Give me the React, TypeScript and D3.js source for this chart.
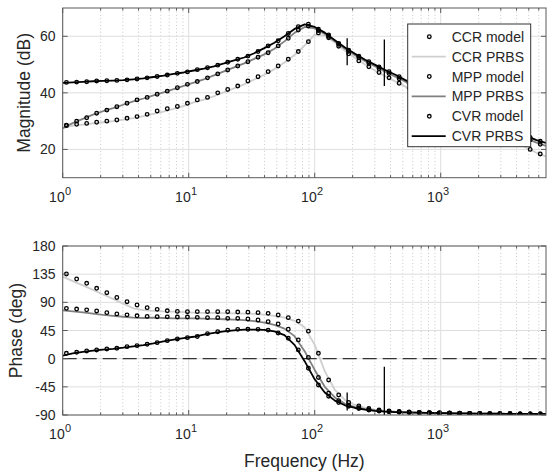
import React from 'react';
import * as d3 from 'd3';

// ---------- data ----------
const modelFreq = [1.07, 1.29, 1.55, 1.86, 2.24, 2.69, 3.24, 3.89, 4.68, 5.62, 6.76, 8.13, 9.77, 11.7, 14.1, 17.0, 20.4, 24.5, 29.5, 35.5, 42.7, 51.3, 61.7, 74.1, 89.1, 107, 129, 155, 186, 224, 269, 324, 389, 468, 562, 676, 813, 977, 1175, 1413, 1698, 2042, 2455, 2951, 3548, 4266, 5129, 6166];

const ccrModelMag = [28.4, 28.9, 29.2, 29.6, 30.0, 30.4, 31.0, 31.6, 32.4, 33.6, 34.4, 35.2, 36.3, 37.5, 38.4, 40.0, 41.2, 42.4, 44.2, 45.7, 47.5, 49.5, 51.9, 54.6, 58.1, 61.2, 59.5, 56.5, 53.8, 51.3, 49.2, 47.2, 45.3, 43.4, 41.6, 39.8, 38.0, 36.2, 34.4, 32.6, 30.8, 29.0, 27.2, 25.4, 23.6, 21.8, 20.0, 18.4];
const mppModelMag = [28.6, 30.0, 31.2, 32.8, 33.9, 35.1, 36.3, 37.5, 38.4, 39.5, 40.6, 41.8, 43.0, 44.0, 45.3, 46.7, 48.1, 49.5, 51.0, 52.6, 54.2, 56.6, 59.3, 62.2, 63.6, 62.0, 60.0, 57.2, 54.7, 52.5, 50.5, 48.6, 46.8, 45.0, 43.2, 41.5, 39.8, 38.1, 36.5, 34.8, 33.2, 31.5, 29.9, 28.2, 26.6, 24.9, 23.3, 21.8];
const cvrModelMag = [43.7, 43.8, 43.95, 44.2, 44.3, 44.4, 44.6, 44.9, 45.3, 45.8, 46.3, 46.9, 47.4, 48.2, 48.9, 49.8, 50.8, 51.9, 53.0, 54.6, 56.6, 58.4, 61.0, 63.4, 64.3, 62.5, 60.5, 57.5, 55.1, 53.0, 51.0, 49.2, 47.5, 45.7, 43.8, 42.2, 40.5, 38.9, 37.2, 35.6, 34.0, 32.3, 30.7, 29.1, 27.4, 25.8, 24.2, 22.9];

const ccrModelPhase = [135.3, 127.3, 120.4, 112.4, 105.4, 97.7, 91.0, 85.7, 81.5, 78.8, 76.5, 75.5, 75.0, 75.1, 75.1, 75.0, 75.0, 74.5, 74.3, 73.5, 72.4, 69.8, 65.5, 60.0, 44.0, 8.6, -34, -58, -70, -75.5, -79.5, -82, -83.5, -84.5, -85.3, -85.8, -86.2, -86.6, -86.9, -87.2, -87.4, -87.6, -87.8, -88.0, -88.1, -88.2, -88.3, -88.4];
const mppModelPhase = [80.4, 79.3, 78.0, 76.2, 73.5, 71.5, 70.0, 68.5, 67.5, 67.0, 66.8, 66.5, 66.5, 66.0, 65.5, 65.5, 64.4, 64.4, 63.4, 61.8, 59.1, 55.4, 47.0, 30.0, 2.0, -30, -55, -67, -74.5, -78.5, -81.5, -83.2, -84.5, -85.3, -85.8, -86.2, -86.5, -86.8, -87.1, -87.3, -87.5, -87.7, -87.8, -88.0, -88.1, -88.2, -88.3, -88.4];
const cvrModelPhase = [8.6, 10.2, 12.3, 13.9, 15.5, 16.6, 19.2, 20.8, 23.0, 25.6, 28.8, 31.5, 33.6, 35.5, 40.0, 43.0, 45.5, 46.8, 46.9, 46.8, 45.6, 41.0, 32.5, 14.0, -15.4, -42, -60, -70, -76, -79.5, -82, -83.5, -84.7, -85.4, -85.9, -86.3, -86.6, -86.9, -87.2, -87.4, -87.6, -87.8, -87.9, -88.0, -88.1, -88.2, -88.3, -88.4];

const prbsFreq = [1, 1.2, 1.445, 1.74, 2.09, 2.51, 3.02, 3.63, 4.37, 5.25, 6.31, 7.59, 9.12, 10.96, 13.18, 15.85, 19.05, 22.91, 27.54, 33.11, 39.81, 47.86, 57.54, 69.18, 83.18, 100, 120.2, 144.5, 173.8, 208.9, 251.2, 302, 363.1, 436.5, 524.8, 631, 758.6, 912, 1096, 1318, 1585, 1905, 2291, 2754, 3311, 3981, 4786, 5754, 6850];

const ccrPrbsMag = [27.5, 28.4, 28.8, 29.2, 29.6, 30.0, 30.5, 31.1, 31.8, 32.6, 33.4, 34.3, 35.4, 36.6, 37.6, 38.8, 40.2, 41.6, 43.0, 44.7, 46.4, 48.4, 50.7, 53.4, 56.7, 60.6, 60.2, 57.8, 54.9, 52.3, 50.0, 47.8, 45.9, 44.0, 42.2, 40.4, 38.6, 36.8, 35.0, 33.2, 31.4, 29.6, 27.8, 26.0, 24.2, 22.4, 20.6, 18.8, 17.5];
const mppPrbsMag = [27.5, 29.3, 30.8, 32.3, 33.5, 34.6, 35.8, 37.0, 38.0, 39.1, 40.2, 41.3, 42.5, 43.6, 44.8, 46.2, 47.6, 49.0, 50.4, 52.0, 53.6, 55.6, 58.2, 61.2, 63.3, 62.8, 60.8, 58.2, 55.6, 53.3, 51.2, 49.3, 47.5, 45.7, 43.9, 42.1, 40.4, 38.7, 37.1, 35.4, 33.8, 32.1, 30.5, 28.8, 27.2, 25.5, 23.9, 22.4, 21.2];
const cvrPrbsMag = [43.5, 43.7, 43.9, 44.1, 44.25, 44.35, 44.5, 44.8, 45.1, 45.6, 46.1, 46.7, 47.2, 47.9, 48.6, 49.4, 50.4, 51.5, 52.5, 54.0, 55.8, 57.7, 60.0, 62.6, 64.2, 63.3, 61.3, 58.6, 56.0, 53.8, 51.7, 49.9, 48.1, 46.4, 44.5, 42.8, 41.1, 39.5, 37.8, 36.2, 34.6, 32.9, 31.3, 29.7, 28.0, 26.4, 24.8, 23.3, 22.3];

const ccrPrbsPhase = [131, 124, 117, 110, 102.5, 95.5, 88, 80.5, 77.5, 76.5, 75.5, 75, 74.5, 73.5, 73.2, 73, 72.8, 72.5, 72, 71.5, 70.5, 68.5, 65.5, 60.5, 50, 22, -20, -50, -66, -74, -78.5, -81.5, -83.3, -84.5, -85.3, -85.9, -86.3, -86.7, -87, -87.2, -87.4, -87.6, -87.8, -87.9, -88, -88.1, -88.2, -88.3, -88.4];
const mppPrbsPhase = [77, 75.5, 74, 72, 70, 68.5, 67, 65.5, 65, 65.5, 65, 64.5, 64.5, 64.5, 64, 63.5, 63, 62.5, 61.5, 60, 57.5, 54, 48, 36, 12, -18, -45, -62, -72, -77.5, -80.8, -82.8, -84.2, -85.1, -85.7, -86.1, -86.5, -86.8, -87.1, -87.3, -87.5, -87.7, -87.8, -88.0, -88.1, -88.2, -88.3, -88.4, -88.4];
const cvrPrbsPhase = [4.8, 8.5, 10.8, 12.8, 14.5, 15.8, 17.5, 19.8, 21.8, 24.3, 27.5, 30.3, 32.8, 35.0, 38.5, 41.3, 43.5, 45.3, 46.3, 46.5, 46.0, 43.5, 37.5, 22.0, -4.0, -33, -54, -67, -74.5, -78.8, -81.5, -83.3, -84.6, -85.3, -85.8, -86.2, -86.5, -86.8, -87.1, -87.3, -87.5, -87.7, -87.8, -88.0, -88.1, -88.2, -88.3, -88.4, -88.4];

// narrow disturbances in the CVR PRBS measurement
const spikeFreq = [181, 357];
const spikeMagHi = [59.3, 58.9];
const spikeMagLo = [49.8, 42.4];
const spikePhaseHi = [-54, -12.8];
const spikePhaseLo = [-83, -90];

const magTicks = [20, 40, 60];
const phaseTicks = [-90, -45, 0, 45, 90, 135, 180];
const decadeTicks = [1, 10, 100, 1000];
const decadeExps = ['0', '1', '2', '3'];
const legendLabels = ['CCR model', 'CCR PRBS', 'MPP model', 'MPP PRBS', 'CVR model', 'CVR PRBS'];

// ---------- layout / style ----------
const W = 547, H = 475;
const L = 62.7, R = 546;
const FONT = '"Liberation Sans", Arial, Helvetica, sans-serif';
const TXT = '#262626';
const C_CCR = '#cfcfcf';
const C_MPP = '#808080';
const C_CVR = '#000000';
const DOT_R = 1.8;

const x = d3.scaleLog().domain([1, 6850]).range([L, R]);
const minorFreqs: number[] = [];
[1, 10, 100, 1000].forEach(d => {
  for (let m = 2; m <= 9; m++) {
    const f = m * d;
    if (f < 6850) minorFreqs.push(f);
  }
});

type Series = { f: number[]; v: number[]; color: string };

function Panel(props: {
  id: string; top: number; bot: number; yDomain: [number, number]; yTicks: number[];
  lines: Series[]; dots: Series[]; spikeHi: number[]; spikeLo: number[];
  yLabel: string; yLabelX: number; zeroLine?: boolean;
}) {
  const { id, top, bot, yDomain, yTicks, lines, dots, spikeHi, spikeLo, yLabel, yLabelX, zeroLine } = props;
  const y = d3.scaleLinear().domain(yDomain).range([bot, top]);
  const line = (s: Series) =>
    d3.line<number>().x((_, i) => x(s.f[i])).y(v => y(v))(s.v) || '';
  const majorLen = 5, minorLen = 2.6;
  return (
    <g>
      <defs>
        <clipPath id={id}>
          <rect x={L} y={top} width={R - L} height={bot - top} />
        </clipPath>
      </defs>
      <rect x={L} y={top} width={R - L} height={bot - top} fill="#fff" />
      {minorFreqs.map(f => (
        <line key={'mg' + f} x1={x(f)} x2={x(f)} y1={top} y2={bot} stroke="#bdbdbd" strokeWidth={0.8} strokeDasharray="1,2.4" />
      ))}
      {decadeTicks.map(f => (
        <line key={'Mg' + f} x1={x(f)} x2={x(f)} y1={top} y2={bot} stroke="#dedede" strokeWidth={1} />
      ))}
      {yTicks.map(v => (
        <line key={'yg' + v} x1={L} x2={R} y1={y(v)} y2={y(v)} stroke="#dedede" strokeWidth={1} />
      ))}
      <g clipPath={`url(#${id})`}>
        {zeroLine && (
          <line x1={L} x2={R} y1={y(0)} y2={y(0)} stroke="#333" strokeWidth={1.3} strokeDasharray="14,6" />
        )}
        {lines.map((s, i) => (
          <path key={'l' + i} d={line(s)} fill="none" stroke={s.color} strokeWidth={1.8} strokeLinejoin="round" />
        ))}
        {spikeFreq.map((f, i) => (
          <line key={'sp' + i} x1={x(f)} x2={x(f)} y1={y(spikeHi[i])} y2={y(spikeLo[i])} stroke="#000" strokeWidth={1.3} />
        ))}
        {dots.map((s, si) =>
          s.v.map((v, i) => (
            <circle key={'d' + si + '_' + i} cx={x(s.f[i])} cy={y(v)} r={DOT_R} fill="none" stroke="#000" strokeWidth={1.3} />
          ))
        )}
      </g>
      <rect x={L} y={top} width={R - L} height={bot - top} fill="none" stroke="#5a5a5a" strokeWidth={1} />
      {decadeTicks.map(f => (
        <g key={'xt' + f}>
          <line x1={x(f)} x2={x(f)} y1={bot} y2={bot - majorLen} stroke="#5a5a5a" />
          <line x1={x(f)} x2={x(f)} y1={top} y2={top + majorLen} stroke="#5a5a5a" />
        </g>
      ))}
      {minorFreqs.map(f => (
        <g key={'xmt' + f}>
          <line x1={x(f)} x2={x(f)} y1={bot} y2={bot - minorLen} stroke="#5a5a5a" />
          <line x1={x(f)} x2={x(f)} y1={top} y2={top + minorLen} stroke="#5a5a5a" />
        </g>
      ))}
      {yTicks.map(v => (
        <g key={'yt' + v}>
          <line x1={L} x2={L + majorLen} y1={y(v)} y2={y(v)} stroke="#5a5a5a" />
          <line x1={R} x2={R - majorLen} y1={y(v)} y2={y(v)} stroke="#5a5a5a" />
          <text x={55.5} y={y(v) + 5} textAnchor="end" fontSize={14} fill={TXT} fontFamily={FONT}>{v}</text>
        </g>
      ))}
      {decadeTicks.map((f, i) => (
        <g key={'xl' + f} fontFamily={FONT} fill={TXT}>
          <text x={x(f) + 2} y={bot + 24} textAnchor="end" fontSize={14}>10</text>
          <text x={x(f) + 2.3} y={bot + 17} textAnchor="start" fontSize={11}>{decadeExps[i]}</text>
        </g>
      ))}
      <text transform={`translate(${yLabelX},${(top + bot) / 2}) rotate(-90)`} textAnchor="middle" fontSize={17.5} fill={TXT} fontFamily={FONT}>
        {yLabel}
      </text>
    </g>
  );
}

function Legend() {
  const x0 = 407.7, y0 = 24, w = 123, h = 122.7;
  const colors = [C_CCR, C_CCR, C_MPP, C_MPP, C_CVR, C_CVR];
  return (
    <g>
      <rect x={x0} y={y0} width={w} height={h} fill="#fff" stroke="#333" strokeWidth={1} />
      {legendLabels.map((lab, i) => {
        const cy = 36.7 + i * 19.9;
        const isModel = i % 2 === 0;
        return (
          <g key={lab}>
            {isModel ? (
              <circle cx={429.3} cy={cy} r={DOT_R} fill="none" stroke="#000" strokeWidth={1.3} />
            ) : (
              <line x1={411.7} x2={445.7} y1={cy} y2={cy} stroke={colors[i]} strokeWidth={1.8} />
            )}
            <text x={451.7} y={cy + 5} fontSize={14} fill={TXT} fontFamily={FONT}>{lab}</text>
          </g>
        );
      })}
    </g>
  );
}

export default function App() {
  return (
    <div style={{ position: 'absolute', left: 0, top: 0 }}>
      <svg width={W} height={H} viewBox={`0 0 ${W} ${H}`} style={{ display: 'block', background: '#fff' }}>
        <rect x={0} y={0} width={W} height={H} fill="#fff" />
        <Panel
          id="clipMag" top={8} bot={177.7} yDomain={[10, 70]} yTicks={magTicks}
          lines={[
            { f: prbsFreq, v: ccrPrbsMag, color: C_CCR },
            { f: prbsFreq, v: mppPrbsMag, color: C_MPP },
            { f: prbsFreq, v: cvrPrbsMag, color: C_CVR },
          ]}
          dots={[
            { f: modelFreq, v: ccrModelMag, color: '#000' },
            { f: modelFreq, v: mppModelMag, color: '#000' },
            { f: modelFreq, v: cvrModelMag, color: '#000' },
          ]}
          spikeHi={spikeMagHi} spikeLo={spikeMagLo}
          yLabel="Magnitude (dB)" yLabelX={30}
        />
        <Legend />
        <Panel
          id="clipPh" top={246} bot={415} yDomain={[-90, 180]} yTicks={phaseTicks}
          lines={[
            { f: prbsFreq, v: ccrPrbsPhase, color: C_CCR },
            { f: prbsFreq, v: mppPrbsPhase, color: C_MPP },
            { f: prbsFreq, v: cvrPrbsPhase, color: C_CVR },
          ]}
          dots={[
            { f: modelFreq, v: ccrModelPhase, color: '#000' },
            { f: modelFreq, v: mppModelPhase, color: '#000' },
            { f: modelFreq, v: cvrModelPhase, color: '#000' },
          ]}
          spikeHi={spikePhaseHi} spikeLo={spikePhaseLo}
          yLabel="Phase (deg)" yLabelX={22} zeroLine
        />
        <text x={(L + R) / 2} y={467} textAnchor="middle" fontSize={17.5} fill={TXT} fontFamily={FONT}>
          Frequency (Hz)
        </text>
      </svg>
    </div>
  );
}
